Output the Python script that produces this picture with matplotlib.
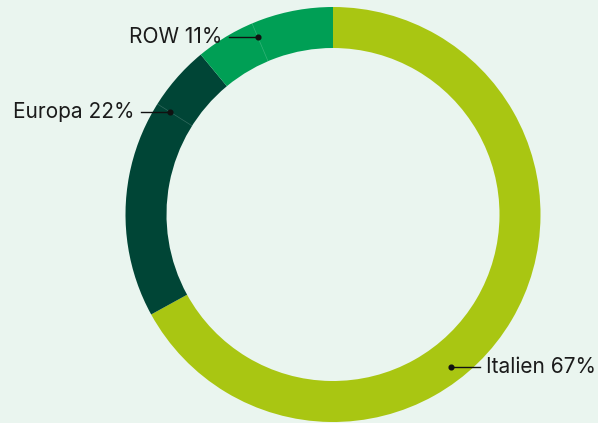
import numpy as np
import matplotlib.pyplot as plt

# Daten
regionen = ['Italien', 'Europa', 'ROW']
anteile = [67, 22, 11]
farben = ['#a9c612', '#004536', '#009f55']

W, H = 598, 423
bg = '#eaf5ef'

fig = plt.figure(figsize=(W / 100, H / 100), dpi=100, facecolor=bg)
ax = fig.add_axes([0, 0, 1, 1])
ax.set_facecolor(bg)

cx, cy = 333, H - 214.5
R = 207.5
breite = 41

ax.pie(anteile, colors=farben, startangle=90, counterclock=False,
       radius=R, center=(cx, cy),
       wedgeprops=dict(width=breite, linewidth=0))

ax.set_xlim(0, W)
ax.set_ylim(0, H)
ax.set_aspect('equal')
ax.axis('off')

# Position der Beschriftungspunkte innerhalb des Segments (Anteil)
anker = [0.59, 0.77, 0.42]
seite = [1, -1, -1]
r_punkt = 193

kum = np.concatenate([[0], np.cumsum(anteile)]) / sum(anteile) * 360
for i, name in enumerate(regionen):
    theta = kum[i] + anker[i] * (kum[i + 1] - kum[i])
    t = np.deg2rad(theta)
    px = cx + r_punkt * np.sin(t)
    py = cy + r_punkt * np.cos(t)
    # feine Naht im Segment
    if i > 0:
        ax.plot([cx + (R - breite) * np.sin(t), cx + R * np.sin(t)],
                [cy + (R - breite) * np.cos(t), cy + R * np.cos(t)],
                color='white', lw=0.5, alpha=0.2)
    ax.plot(px, py, 'o', color='#111111', ms=3.4)
    x2 = px + seite[i] * 29
    ax.plot([px, x2], [py, py], color='#111111', lw=1)
    ax.text(x2 + seite[i] * 6, py, f'{name} {anteile[i]}%',
            ha='left' if seite[i] > 0 else 'right', va='center',
            fontsize=15, family='Inter', color='#1b1b1b')

plt.savefig('out.png', dpi=100, facecolor=bg)
